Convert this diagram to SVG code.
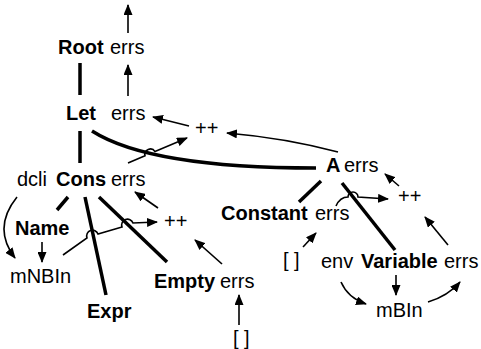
<svg xmlns="http://www.w3.org/2000/svg" width="481" height="349" viewBox="0 0 481 349">
<style>
text{font-family:"Liberation Sans",Arial,Helvetica,sans-serif;font-size:20px;fill:#000}
.b{font-weight:bold}
.tree{fill:none;stroke:#000;stroke-width:3.5;stroke-linecap:butt}
.flow{fill:none;stroke:#000;stroke-width:1.6;marker-end:url(#ah)}
</style>
<defs>
<marker id="ah" viewBox="0 0 11 9" refX="10" refY="4.5" markerWidth="11" markerHeight="9" markerUnits="userSpaceOnUse" orient="auto">
<path d="M0,0 L11,4.5 L0,9 z" fill="#000"/>
</marker>
</defs>
<rect width="481" height="349" fill="#fff"/>
<g id="connectors">
<path class="tree" d="M80,63 L80,95"/>
<path class="tree" d="M80,131 L80,163"/>
<path class="tree" d="M92,131 Q150,168 316,168"/>
<path class="tree" d="M321,181 L299,202"/>
<path class="tree" d="M342,183 L395,250"/>
<path class="tree" d="M68,197 L57,210"/>
<path class="tree" d="M85,197 L106,295"/>
<path class="tree" d="M99,197 L167,262"/>
<path class="flow" d="M128,33 L128,5"/>
<path class="flow" d="M128,96 L128,65"/>
<path class="flow" d="M189,126 L153,117"/>
<path class="flow" d="M338,152 Q285,138 227,133"/>
<path class="flow" d="M128,163 L145,155.8 A5.5,5.5 0 0 1 155,151.6 L187,138"/>
<path class="flow" d="M399,186 L385,174"/>
<path class="flow" d="M448,245 L425,217"/>
<path class="flow" d="M336,206 Q340,197 348,197 A5,5 0 0 1 358,197 L388,199"/>
<path class="flow" d="M303,247 L316,233"/>
<path class="flow" d="M396,275 L396,295"/>
<path class="flow" d="M341,282 Q348,298 366,304"/>
<path class="flow" d="M428,302 Q448,296 460,282"/>
<path class="flow" d="M17,197 Q-8,228 15,258"/>
<path class="flow" d="M42,242 L42,262"/>
<path class="flow" d="M63,255 L87,238 A5.5,5.5 0 0 1 98,234 L122,227 A5.5,5.5 0 0 1 133,223 L157,222"/>
<path class="flow" d="M158,208 L135,192"/>
<path class="flow" d="M222,264 L195,240"/>
<path class="flow" d="M239,325 L239,295"/>
</g>
<g id="root"><text class="b" x="58" y="54">Root</text><text x="110" y="54">errs</text></g>
<g id="let"><text class="b" x="66" y="120">Let</text><text x="111" y="120">errs</text></g>
<g id="let-concat"><text x="195" y="135">++</text></g>
<g id="cons"><text x="17" y="186">dcli</text><text class="b" x="56" y="186">Cons</text><text x="111" y="186">errs</text></g>
<g id="name"><text class="b" x="15" y="235">Name</text></g>
<g id="mnbin"><text x="10" y="283">mNBIn</text></g>
<g id="expr"><text class="b" x="87" y="318">Expr</text></g>
<g id="cons-concat"><text x="164" y="228">++</text></g>
<g id="empty"><text class="b" x="154" y="288">Empty</text><text x="220" y="288">errs</text></g>
<g id="empty-nil"><text x="233" y="345">[ ]</text></g>
<g id="a"><text class="b" x="326" y="172">A</text><text x="344" y="172">errs</text></g>
<g id="a-concat"><text x="398" y="203">++</text></g>
<g id="constant"><text class="b" x="221" y="220">Constant</text><text x="315" y="220">errs</text></g>
<g id="constant-nil"><text x="283" y="267">[ ]</text></g>
<g id="variable"><text x="321" y="268">env</text><text class="b" x="361" y="268">Variable</text><text x="444" y="268">errs</text></g>
<g id="mbin"><text x="376" y="317">mBIn</text></g>
</svg>
